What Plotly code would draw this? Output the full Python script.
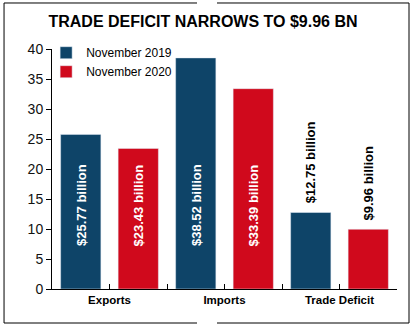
import plotly.graph_objects as go

categories = ["Exports", "Imports", "Trade Deficit"]
nov2019 = [25.77, 38.52, 12.75]
nov2020 = [23.43, 33.39, 9.96]
series_names = ["November 2019", "November 2020"]
title_text = "TRADE DEFICIT NARROWS TO $9.96 BN"
y_ticks = [0, 5, 10, 15, 20, 25, 30, 35, 40]
label_inside = [True, True, False]

BLUE = "#0e4468"
RED = "#d0091c"
ARIAL = "Liberation Sans, Arial"

n = len(categories)
x19 = [2 * i for i in range(n)]
x20 = [2 * i + 1 for i in range(n)]
xmid = [2 * i + 0.5 for i in range(n)]
bounds = [2 * i - 0.5 for i in range(n + 1)]

fig = go.Figure()
fig.add_trace(go.Bar(x=x19, y=nov2019, name=series_names[0], marker_color=BLUE,
                     width=0.7, hoverinfo="skip"))
fig.add_trace(go.Bar(x=x20, y=nov2020, name=series_names[1], marker_color=RED,
                     width=0.7, hoverinfo="skip"))

annotations = []
for xs, vals in [(x19, nov2019), (x20, nov2020)]:
    for i, (xv, v) in enumerate(zip(xs, vals)):
        txt = f"${v:.2f} billion"
        if label_inside[i]:
            annotations.append(dict(x=xv, y=6.8, text=txt, textangle=-90, showarrow=False,
                                    xanchor="center", yanchor="bottom",
                                    font=dict(family=ARIAL, size=13, color="white", weight="bold")))
        else:
            annotations.append(dict(x=xv, y=v, text=txt, textangle=-90, showarrow=False,
                                    xanchor="center", yanchor="bottom", yshift=7,
                                    font=dict(family=ARIAL, size=13, color="black", weight="bold")))

# frame (with small gaps at top and bottom like the reference)
L, R, T, B = -0.139, 1.0348, 1.1917, -0.1417
g1, g2 = 0.4203, 0.4783
frame = dict(type="line", xref="paper", yref="paper", line=dict(color="black", width=1))
shapes = [
    dict(frame, x0=L, x1=L, y0=B, y1=T),
    dict(frame, x0=R, x1=R, y0=B, y1=T),
    dict(frame, x0=L, x1=g1, y0=T, y1=T),
    dict(frame, x0=g2, x1=R, y0=T, y1=T),
    dict(frame, x0=L, x1=g1, y0=B, y1=B),
    dict(frame, x0=g2, x1=R, y0=B, y1=B),
]

fig.update_layout(
    width=413, height=328,
    margin=dict(l=52, r=16, t=49, b=39),
    paper_bgcolor="white", plot_bgcolor="white",
    barmode="overlay",
    showlegend=True,
    legend=dict(x=-0.017, y=1.045, xanchor="left", yanchor="top",
                font=dict(family=ARIAL, size=12, color="black"),
                bgcolor="rgba(0,0,0,0)", itemwidth=30, tracegroupgap=0),
    title=dict(text=title_text, x=0.4915, xanchor="center", y=0.935, yanchor="middle",
               xref="container", yref="container",
               font=dict(family=ARIAL, size=16, color="black", weight="bold")),
    annotations=annotations,
    shapes=shapes,
    xaxis=dict(range=[-0.5, 2 * n - 0.5], tickmode="array", tickvals=xmid, ticktext=categories,
               ticks="inside", ticklen=5, tickcolor="black", tickwidth=1,
               showline=True, linecolor="black", linewidth=1, showgrid=False, zeroline=False,
               tickfont=dict(family=ARIAL, size=11.5, color="black", weight="bold"),
               minor=dict(tickmode="array", tickvals=bounds, ticks="inside", ticklen=5,
                          tickcolor="black", tickwidth=1, showgrid=False)),
    yaxis=dict(range=[0, 40], tickmode="array", tickvals=y_ticks,
               ticks="outside", ticklen=5, tickcolor="black", tickwidth=1,
               showline=True, linecolor="black", linewidth=1, showgrid=False, zeroline=False,
               tickfont=dict(family=ARIAL, size=14, color="#111")),
)
fig.update_xaxes(fixedrange=True)
fig.update_yaxes(fixedrange=True)

fig.write_html("out.html", config={"displayModeBar": False})
